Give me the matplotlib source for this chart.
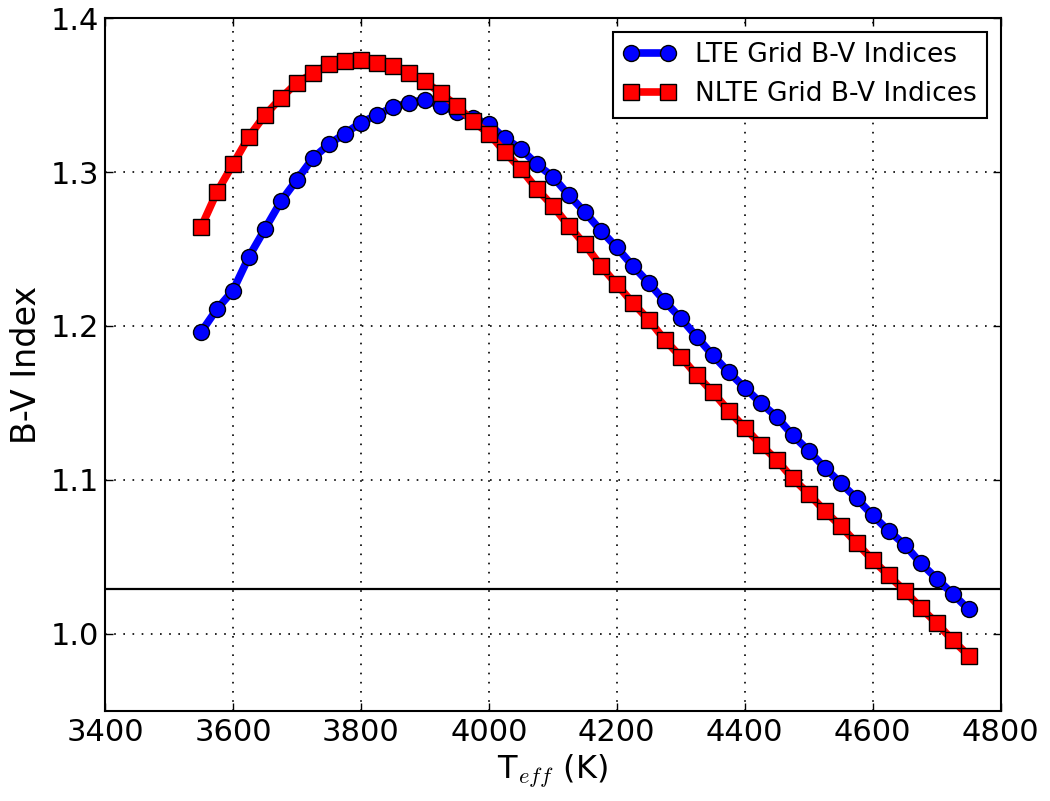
import matplotlib
matplotlib.use("Agg")
import matplotlib.pyplot as plt

# Effective temperatures of the model grid (K)
teff = [3550, 3575, 3600, 3625, 3650, 3675, 3700, 3725, 3750, 3775,
        3800, 3825, 3850, 3875, 3900, 3925, 3950, 3975, 4000, 4025,
        4050, 4075, 4100, 4125, 4150, 4175, 4200, 4225, 4250, 4275,
        4300, 4325, 4350, 4375, 4400, 4425, 4450, 4475, 4500, 4525,
        4550, 4575, 4600, 4625, 4650, 4675, 4700, 4725, 4750]

# B-V colour indices from the LTE grid
bv_lte = [1.196, 1.211, 1.223, 1.245, 1.263, 1.281, 1.295, 1.309, 1.318, 1.325,
          1.332, 1.337, 1.342, 1.345, 1.347, 1.343, 1.339, 1.335, 1.331, 1.322,
          1.315, 1.305, 1.297, 1.285, 1.274, 1.262, 1.251, 1.239, 1.228, 1.216,
          1.205, 1.193, 1.181, 1.170, 1.160, 1.150, 1.141, 1.129, 1.119, 1.108,
          1.098, 1.088, 1.077, 1.067, 1.058, 1.046, 1.036, 1.026, 1.016]

# B-V colour indices from the NLTE grid
bv_nlte = [1.264, 1.287, 1.305, 1.323, 1.337, 1.348, 1.358, 1.364, 1.370, 1.372,
           1.373, 1.371, 1.369, 1.364, 1.359, 1.351, 1.343, 1.333, 1.325, 1.313,
           1.302, 1.289, 1.278, 1.265, 1.253, 1.239, 1.227, 1.215, 1.204, 1.191,
           1.180, 1.168, 1.157, 1.145, 1.134, 1.123, 1.113, 1.101, 1.091, 1.080,
           1.070, 1.059, 1.048, 1.038, 1.028, 1.017, 1.007, 0.996, 0.986]

# Observed reference colour
bv_observed = 1.029

xticks = [3400, 3600, 3800, 4000, 4200, 4400, 4600, 4800]
yticks = [1.0, 1.1, 1.2, 1.3, 1.4]

plt.rcParams['font.family'] = ['DejaVu Sans']
plt.rcParams['mathtext.fontset'] = 'cm'

fig = plt.figure(figsize=(10.5, 8.01), dpi=100)
ax = fig.add_axes([0.1, 0.1124, 0.853, 0.8651])

ax.plot(teff, bv_lte, '-o', color='blue', lw=5.5, ms=11.5, mfc='blue',
        mec='black', mew=1.0, label='LTE Grid B-V Indices', zorder=3)
ax.plot(teff, bv_nlte, '-s', color='red', lw=5.5, ms=11, mfc='red',
        mec='black', mew=1.0, label='NLTE Grid B-V Indices', zorder=3)
ax.axhline(bv_observed, color='black', lw=1.6, zorder=2)

ax.set_xlim(3400, 4800)
ax.set_ylim(0.95, 1.4)
ax.set_xticks(xticks)
ax.set_yticks(yticks)
ax.set_yticklabels([f"{v:.1f}" for v in yticks])
ax.grid(True, color='black', linestyle=(0, (1, 4.5)), linewidth=1.2)
ax.tick_params(direction='in', length=6, width=1, top=True, right=True,
               labelsize=22)
ax.tick_params(axis='x', pad=5)
ax.tick_params(axis='y', pad=4)
for sp in ax.spines.values():
    sp.set_linewidth(1.5)

ax.set_xlabel(r'T$_{eff}$ (K)', fontsize=23, labelpad=4)
ax.set_ylabel('B-V Index', fontsize=24, labelpad=6)

leg = ax.legend(loc='upper right', numpoints=2, fontsize=19, fancybox=False,
                framealpha=1, edgecolor='black', handlelength=2.0,
                borderaxespad=0.52, handletextpad=0.7, labelspacing=0.5,
                borderpad=0.4)
leg.get_frame().set_linewidth(1.5)

fig.savefig('out.png', dpi=100, facecolor='white')
